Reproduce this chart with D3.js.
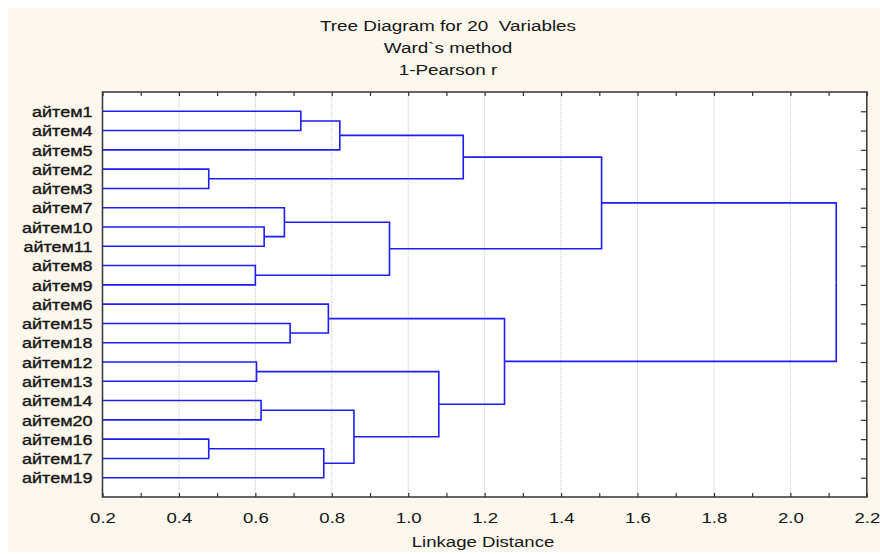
<!DOCTYPE html>
<html>
<head>
<meta charset="utf-8">
<script src="https://cdn.jsdelivr.net/npm/d3@7"></script>
<style>
  html, body { margin: 0; padding: 0; background: #ffffff; }
  svg { display: block; }
  text { font-family: "Liberation Sans", Arial, sans-serif; fill: #151515; }
</style>
</head>
<body>
<svg id="chart" width="880" height="554"></svg>
<script>
// Leaves, top to bottom
const leaves = ["айтем1","айтем4","айтем5","айтем2","айтем3","айтем7","айтем10","айтем11","айтем8","айтем9",
                "айтем6","айтем15","айтем18","айтем12","айтем13","айтем14","айтем20","айтем16","айтем17","айтем19"];

// Ward linkage: node 20+i joins mergeA[i] and mergeB[i] at mergeHeight[i]
const mergeA      = [3,    17,    8,     13,    15,    6,     5,     11,    0,     21,    10,    28,    24,    26,    23,    31,    30,    35,    37];
const mergeB      = [4,    18,    9,     14,    16,    7,     25,    12,    1,     19,    27,    2,     29,    22,    32,    20,    34,    33,    36];
const mergeHeight = [0.478,0.478, 0.600, 0.603, 0.615, 0.623, 0.676, 0.691, 0.719, 0.779, 0.791, 0.821, 0.858, 0.951, 1.080, 1.144, 1.252, 1.506, 2.120];

const xTicks = [0.2,0.4,0.6,0.8,1.0,1.2,1.4,1.6,1.8,2.0,2.2];
const xMinorTicks = [0.3,0.5,0.7,0.9,1.1,1.3,1.5,1.7,1.9,2.1];
const titleLines = ["Tree Diagram for 20  Variables", "Ward`s method", "1-Pearson r"];
const xTitle = "Linkage Distance";

const svg = d3.select("#chart");
const W = 880, H = 554;
const plot = { left: 102.5, right: 866.8, top: 92, bottom: 497 };
const stretch = 1.2;

// panel background
svg.append("rect").attr("x", 8).attr("y", 8).attr("width", W - 8).attr("height", H - 10)
  .attr("fill", "#fdf8ee");
svg.append("rect").attr("x", plot.left).attr("y", plot.top)
  .attr("width", plot.right - plot.left).attr("height", plot.bottom - plot.top)
  .attr("fill", "#ffffff");

const x = d3.scaleLinear().domain([0.2, 2.2]).range([plot.left, plot.right]);
const y = d3.scalePoint().domain(leaves).range([plot.top, plot.bottom]).padding(1);

// vertical dotted grid
svg.append("g").selectAll("line").data(xTicks.slice(1, -1)).join("line")
  .attr("x1", d => x(d)).attr("x2", d => x(d))
  .attr("y1", plot.top).attr("y2", plot.bottom)
  .attr("stroke", "#c4c4c4").attr("stroke-width", 1).attr("stroke-dasharray", "1,1");

// build the tree from the linkage
const nodes = leaves.map((name, i) => ({ name, height: 0.2, leaf: i }));
mergeHeight.forEach((h, i) => {
  nodes.push({ name: "n" + (20 + i), height: h, children: [nodes[mergeA[i]], nodes[mergeB[i]]] });
});
const root = d3.hierarchy(nodes[nodes.length - 1]);
root.eachAfter(n => {
  n.px = x(n.data.height);
  n.py = n.children ? d3.mean(n.children, c => c.py) : y(n.data.name);
});

svg.append("g").selectAll("path").data(root.links()).join("path")
  .attr("d", l => `M${l.target.px},${l.target.py}H${l.source.px}V${l.source.py}`)
  .attr("fill", "none").attr("stroke", "#1e1ef4").attr("stroke-width", 1.6);

// axes: inward ticks on all sides
const gb = svg.append("g").attr("transform", `translate(0,${plot.bottom})`);
gb.call(d3.axisBottom(x).tickValues(xTicks).tickSize(-4).tickPadding(15).tickFormat(d3.format(".1f")));
gb.append("g").call(d3.axisBottom(x).tickValues(xMinorTicks).tickSize(-4).tickFormat(""));
const gt = svg.append("g").attr("transform", `translate(0,${plot.top})`);
gt.call(d3.axisTop(x).tickValues(xTicks).tickSize(-4).tickFormat(""));
gt.append("g").call(d3.axisTop(x).tickValues(xMinorTicks).tickSize(-4).tickFormat(""));
const gr = svg.append("g").attr("transform", `translate(${plot.right},0)`);
gr.call(d3.axisRight(y).tickSize(-6).tickFormat(""));
const gl = svg.append("g").attr("transform", `translate(${plot.left},0)`);
gl.call(d3.axisLeft(y).tickSize(0).tickPadding(10));

svg.selectAll(".domain").remove();
svg.selectAll(".tick line").attr("stroke", "#333").attr("stroke-width", 1.2);
gb.selectAll(".tick text").attr("font-size", 15.5).attr("fill", "#151515")
  .attr("font-family", "Liberation Sans, Arial, sans-serif")
  .attr("transform", `scale(${stretch},1)`);
gl.selectAll(".tick text").attr("font-size", 15).attr("fill", "#151515")
  .attr("stroke", "#151515").attr("stroke-width", 0.35)
  .attr("font-family", "Liberation Sans, Arial, sans-serif")
  .attr("dy", "0.35em")
  .attr("transform", function () {
    const xx = +d3.select(this).attr("x");
    return `translate(${xx},0) scale(${stretch},1) translate(${-xx},0)`;
  });

// frame
svg.append("rect").attr("x", plot.left).attr("y", plot.top)
  .attr("width", plot.right - plot.left).attr("height", plot.bottom - plot.top)
  .attr("fill", "none").attr("stroke", "#333").attr("stroke-width", 1.5);

// titles
svg.append("g").selectAll("text").data(titleLines).join("text")
  .attr("transform", (d, i) => `translate(448,${31 + i * 22}) scale(1.22,1)`)
  .attr("text-anchor", "middle").attr("font-size", 15.5)
  .style("white-space", "pre").text(d => d);

svg.append("text").attr("transform", `translate(483,547) scale(${stretch},1)`)
  .attr("text-anchor", "middle").attr("font-size", 15.5).text(xTitle);
</script>
</body>
</html>
